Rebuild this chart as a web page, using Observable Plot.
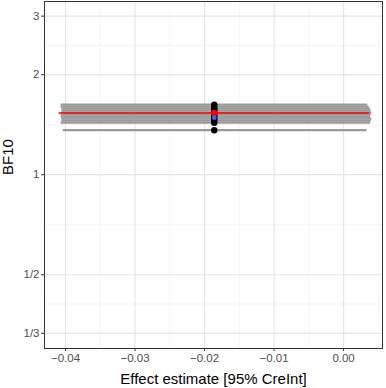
<!DOCTYPE html>
<html>
<head>
<meta charset="utf-8">
<script src="https://cdn.jsdelivr.net/npm/d3@7"></script>
<script src="https://cdn.jsdelivr.net/npm/@observablehq/plot@0.6"></script>
<style>
  html, body { margin: 0; padding: 0; background: #fff; }
  #chart svg { display: block; }
</style>
</head>
<body>
<div id="chart"></div>
<script>
// Sensitivity models: BF10, effect estimate and 95% credible interval
const bf10     = [1.625, 1.602, 1.580, 1.558, 1.537, 1.516, 1.495, 1.474, 1.454, 1.434, 1.361];
const estimate = [-0.0186, -0.0186, -0.0186, -0.0186, -0.0186, -0.0186, -0.0186, -0.0186, -0.0186, -0.0186, -0.0186];
const lower    = [-0.0407, -0.0407, -0.0406, -0.0406, -0.0406, -0.0407, -0.0407, -0.0406, -0.0406, -0.0407, -0.0404];
const upper    = [0.0034, 0.0036, 0.0038, 0.0039, 0.0040, 0.0039, 0.0038, 0.0040, 0.0039, 0.0038, 0.0033];

// Main model (red) and reference (blue)
const mainBF = [1.534];
const mainEst = [-0.0186];
const mainLower = [-0.0410];
const mainUpper = [0.0037];
const refBF = [1.485];
const refEst = [-0.0186];

// Axis ticks
const xTicks = [-0.04, -0.03, -0.02, -0.01, 0.00];
const xMinor = [-0.035, -0.025, -0.015, -0.005, 0.005];
const yTicks = [1/3, 1/2, 1, 2, 3];
const yTickLabels = ["1/3", "1/2", "1", "2", "3"];
const yMinor = [Math.sqrt(1/6), Math.sqrt(1/2), Math.sqrt(2), Math.sqrt(6)];

const models = bf10.map((b, i) => ({bf: b, est: estimate[i], lo: lower[i], hi: upper[i]}));
const main = mainBF.map((b, i) => ({bf: b, est: mainEst[i], lo: mainLower[i], hi: mainUpper[i]}));
const ref = refBF.map((b, i) => ({bf: b, est: refEst[i]}));

function yLabel(d) {
  let best = 0;
  yTicks.forEach((t, i) => { if (Math.abs(t - d) < Math.abs(yTicks[best] - d)) best = i; });
  return yTickLabels[best];
}

const chart = Plot.plot({
  width: 386,
  height: 388,
  marginLeft: 44,
  marginRight: 4,
  marginTop: 1,
  marginBottom: 40,
  style: {fontFamily: "'Liberation Sans', Arial, sans-serif", background: "#fff"},
  x: {domain: [-0.04302, 0.0056], label: null},
  y: {type: "log", domain: [0.30, 3.32], label: null},
  marks: [
    Plot.ruleX(xMinor, {stroke: "#F0F0F0", strokeWidth: 0.7}),
    Plot.ruleY(yMinor, {stroke: "#F0F0F0", strokeWidth: 0.7}),
    Plot.ruleX(xTicks, {stroke: "#E6E6E6", strokeWidth: 1.2}),
    Plot.ruleY(yTicks, {stroke: "#E6E6E6", strokeWidth: 1.2}),
    Plot.link(models, {x1: "lo", x2: "hi", y1: "bf", y2: "bf", stroke: "#999999", strokeWidth: 2.3}),
    Plot.dot(models, {x: "est", y: "bf", r: 3.2, fill: "black", stroke: "none"}),
    Plot.link(main, {x1: "lo", x2: "hi", y1: "bf", y2: "bf", stroke: "#FF0000", strokeWidth: 1.6}),
    Plot.dot(main, {x: "est", y: "bf", r: 3.2, fill: "#FF0000", stroke: "none"}),
    Plot.dot(ref, {x: "est", y: "bf", r: 2.4, fill: "#3366FF", stroke: "none"}),
    Plot.frame({stroke: "#333333", strokeWidth: 1}),
    Plot.axisX(xTicks, {tickSize: 3, tickPadding: 2, stroke: "#333333", fill: "#4D4D4D", fontSize: 11.5,
      tickFormat: d => (d === 0 ? "0.00" : d3.format(".2f")(d)).replace("-", "\u2212"), label: null}),
    Plot.axisY(yTicks, {tickSize: 3, tickPadding: 2, stroke: "#333333", fill: "#4D4D4D", fontSize: 11.5,
      tickFormat: yLabel, label: null}),
    Plot.text(["Effect estimate [95% CreInt]"], {frameAnchor: "bottom", dy: 35, fontSize: 15, fill: "black"}),
    Plot.text(["BF10"], {frameAnchor: "left", dx: -36, rotate: -90, fontSize: 15, fill: "black"})
  ]
});
document.getElementById("chart").append(chart);
</script>
</body>
</html>
